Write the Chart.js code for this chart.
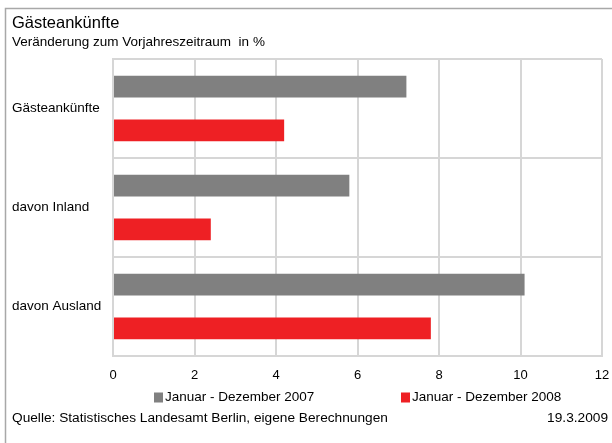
<!DOCTYPE html>
<html>
<head>
<meta charset="utf-8">
<script src="https://cdn.jsdelivr.net/npm/chart.js@4/dist/chart.umd.min.js"></script>
<style>
  html, body { margin: 0; padding: 0; background: #fff; }
  #wrap { width: 612px; height: 443px; }
</style>
</head>
<body>
<div id="wrap"><canvas id="chart" width="612" height="443"></canvas></div>
<script>
const categories = ['Gästeankünfte', 'davon Inland', 'davon Ausland'];
const seriesLabels = ['Januar - Dezember 2007', 'Januar - Dezember 2008'];
const values2007 = [7.2, 5.8, 10.1];
const values2008 = [4.2, 2.4, 7.8];
const seriesColors = ['#808080', '#ee2024'];

const FONT = '"Liberation Sans", Arial, sans-serif';
Chart.defaults.font.family = FONT;
Chart.defaults.font.size = 13.5;
Chart.defaults.color = '#000';

// white page with the grey frame line on the top and left
const framePlugin = {
  id: 'frame',
  beforeDraw(chart) {
    const ctx = chart.ctx;
    ctx.save();
    ctx.fillStyle = '#fff';
    ctx.fillRect(0, 0, chart.width, chart.height);
    ctx.strokeStyle = '#a8a8a8';
    ctx.lineWidth = 1.5;
    ctx.beginPath();
    ctx.moveTo(5.5, chart.height);
    ctx.lineTo(5.5, 8.5);
    ctx.lineTo(chart.width, 8.5);
    ctx.stroke();
    ctx.restore();
  }
};

// legend row and source line below the axis
const footerPlugin = {
  id: 'footer',
  afterDraw(chart) {
    const ctx = chart.ctx;
    const legendX = [154, 401];
    const legendY = 397.5;
    ctx.save();
    ctx.font = '13.5px ' + FONT;
    ctx.textBaseline = 'middle';
    chart.data.datasets.forEach((ds, i) => {
      ctx.fillStyle = ds.backgroundColor;
      ctx.fillRect(legendX[i], legendY - 5, 9, 10);
      ctx.fillStyle = '#000';
      ctx.textAlign = 'left';
      ctx.fillText(ds.label, legendX[i] + 11, legendY);
    });
    ctx.textAlign = 'left';
    ctx.font = '13.7px ' + FONT;
    ctx.fillText('Quelle: Statistisches Landesamt Berlin, eigene Berechnungen', 12, 418);
    ctx.textAlign = 'right';
    ctx.fillText('19.3.2009', 608, 418);
    ctx.restore();
  }
};

new Chart(document.getElementById('chart'), {
  type: 'bar',
  data: {
    labels: categories,
    datasets: [
      { label: seriesLabels[0], data: values2007, backgroundColor: seriesColors[0] },
      { label: seriesLabels[1], data: values2008, backgroundColor: seriesColors[1] }
    ]
  },
  options: {
    indexAxis: 'y',
    responsive: false,
    animation: false,
    devicePixelRatio: 1,
    layout: { padding: { top: 0, left: 12, right: 10, bottom: 0 } },
    datasets: {
      bar: { categoryPercentage: 0.886, barPercentage: 0.495, borderWidth: 0 }
    },
    scales: {
      x: {
        min: 0,
        max: 12,
        ticks: { stepSize: 2, padding: 12, font: { size: 13 } },
        grid: { color: '#d6d6d6', lineWidth: 2, drawTicks: false },
        border: { color: '#d6d6d6', width: 2 },
        afterFit(scale) {
          scale.height = 87;
          scale.paddingLeft = 0;
          scale.paddingRight = 0;
        }
      },
      y: {
        ticks: { crossAlign: 'far', font: { size: 13.5 } },
        grid: { color: '#d6d6d6', lineWidth: 2, drawTicks: false, offset: true },
        border: { color: '#d6d6d6', width: 2 },
        afterFit(scale) { scale.width = 101; }
      }
    },
    plugins: {
      legend: { display: false },
      tooltip: { enabled: false },
      title: {
        display: true,
        text: 'Gästeankünfte',
        align: 'start',
        color: '#000',
        font: { size: 16.5, weight: 'normal' },
        padding: { top: 14, bottom: 0 }
      },
      subtitle: {
        display: true,
        text: 'Veränderung zum Vorjahreszeitraum  in %',
        align: 'start',
        color: '#000',
        font: { size: 13.5 },
        padding: { top: 0, bottom: 9 }
      }
    }
  },
  plugins: [framePlugin, footerPlugin]
});
</script>
</body>
</html>
